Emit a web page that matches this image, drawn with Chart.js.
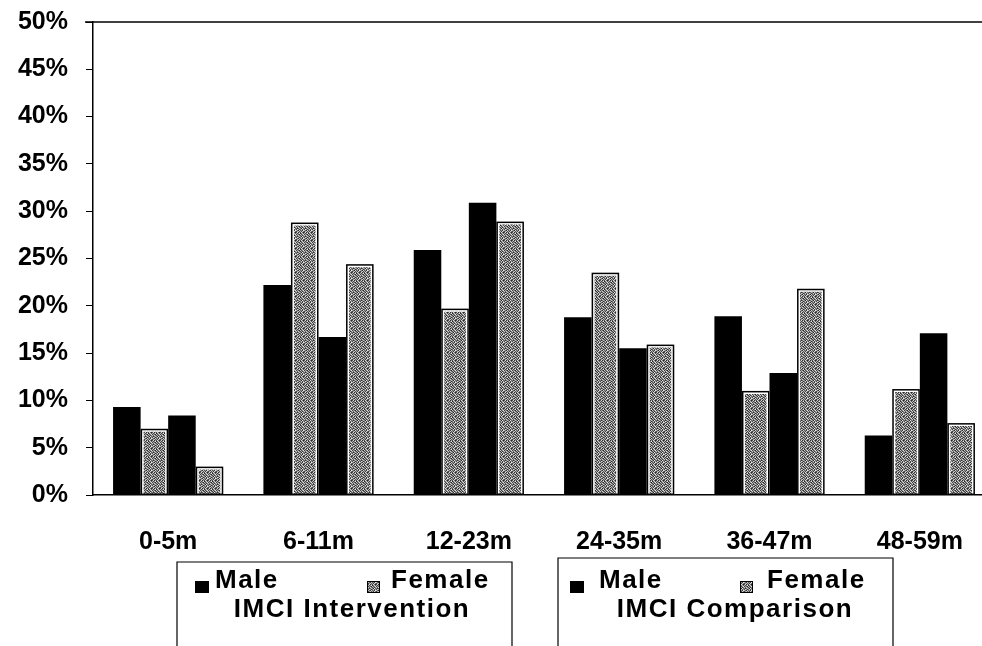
<!DOCTYPE html>
<html>
<head>
    <title>IMCI by age and sex</title>
    <script src="https://cdn.jsdelivr.net/npm/chart.js"></script>
    <style>
        html, body {
            margin: 0;
            padding: 0;
            background: #fff;
            overflow: hidden;
        }
        .wrap {
            position: relative;
            width: 1000px;
            height: 646px;
        }
    </style>
</head>
<body>
    <div class="wrap">
        <canvas id="ageChart" width="1000" height="646"></canvas>
    </div>
    <script>
        const categories = ['0-5m', '6-11m', '12-23m', '24-35m', '36-47m', '48-59m'];
        const interventionMale = [9.3, 22.2, 25.9, 18.8, 18.9, 6.3];
        const interventionFemale = [7.0, 28.8, 19.7, 23.5, 11.0, 11.2];
        const comparisonMale = [8.4, 16.7, 30.9, 15.5, 12.9, 17.1];
        const comparisonFemale = [3.0, 24.4, 28.9, 15.9, 21.8, 7.6];
        const groupNames = ['IMCI Intervention', 'IMCI Comparison'];
        const sexLabels = ['Male', 'Female'];

        const FONT = '"Liberation Sans", Arial, sans-serif';

        // speckled grey fill used for the female bars
        function makePattern() {
            const shades = [
                0x50, 0xd8, 0x30, 0x99, 0x48, 0xe0, 0x70, 0x28,
                0xb8, 0x40, 0x88, 0xe8, 0x2a, 0x74, 0xc8, 0x58,
                0x38, 0xa8, 0x60, 0x22, 0xd0, 0x4a, 0x90, 0xe4,
                0xcc, 0x56, 0xdc, 0x7a, 0x3c, 0xb0, 0x2e, 0x84,
                0x80, 0x30, 0x5a, 0xc0, 0x94, 0x26, 0xe8, 0x64,
                0x44, 0xe0, 0xa0, 0x36, 0x6c, 0xcc, 0x52, 0xa4,
                0xbc, 0x68, 0x2c, 0xd4, 0x58, 0x8c, 0x34, 0xec,
                0x3a, 0x9c, 0xc4, 0x4e, 0xb4, 0x3e, 0xd8, 0x78
            ];
            const c = document.createElement('canvas');
            c.width = 8;
            c.height = 8;
            const g = c.getContext('2d');
            const img = g.createImageData(8, 8);
            for (let i = 0; i < 64; i++) {
                img.data[i * 4] = shades[i];
                img.data[i * 4 + 1] = shades[i];
                img.data[i * 4 + 2] = shades[i];
                img.data[i * 4 + 3] = 255;
            }
            g.putImageData(img, 0, 0);
            return document.getElementById('ageChart').getContext('2d').createPattern(c, 'repeat');
        }
        const greyPattern = makePattern();

        // black outline round the female bars (white inner band comes from the bar border)
        const outlinePlugin = {
            id: 'outline',
            afterDatasetsDraw(chart) {
                const ctx = chart.ctx;
                ctx.save();
                ctx.strokeStyle = '#000';
                ctx.lineWidth = 1.5;
                chart.data.datasets.forEach((ds, i) => {
                    if (!ds.outlined) return;
                    chart.getDatasetMeta(i).data.forEach((bar) => {
                        const p = bar.getProps(['x', 'y', 'base', 'width'], true);
                        ctx.strokeRect(p.x - p.width / 2 + 0.75, p.y + 0.75, p.width - 1.5, p.base - p.y - 1);
                    });
                });
                ctx.restore();
            }
        };

        // top frame line + the two boxed legends under the axis
        const framePlugin = {
            id: 'frame',
            afterDraw(chart) {
                const ctx = chart.ctx;
                const area = chart.chartArea;
                ctx.save();
                ctx.strokeStyle = '#000';
                ctx.lineWidth = 1.5;
                ctx.beginPath();
                ctx.moveTo(85, area.top);
                ctx.lineTo(chart.width, area.top);
                ctx.stroke();

                const boxes = [
                    { x: 177, y: 562, w: 335, male: 195, maleText: 215, female: 367, femaleText: 391, title: 352 },
                    { x: 558, y: 558, w: 335, male: 570, maleText: 599, female: 740, femaleText: 767, title: 735 }
                ];
                ctx.font = 'bold 26px ' + FONT;
                ctx.letterSpacing = '1.5px';
                ctx.textBaseline = 'alphabetic';
                boxes.forEach((b, i) => {
                    ctx.lineWidth = 1.2;
                    ctx.strokeStyle = '#000';
                    ctx.beginPath();
                    ctx.moveTo(b.x, chart.height + 2);
                    ctx.lineTo(b.x, b.y);
                    ctx.lineTo(b.x + b.w, b.y);
                    ctx.lineTo(b.x + b.w, chart.height + 2);
                    ctx.stroke();

                    const male = chart.data.datasets[i * 2];
                    const female = chart.data.datasets[i * 2 + 1];
                    ctx.fillStyle = male.backgroundColor;
                    ctx.fillRect(b.male, 581, 14, 12);
                    ctx.fillStyle = female.backgroundColor;
                    ctx.fillRect(b.female, 581, 13, 12);
                    ctx.lineWidth = 1;
                    ctx.strokeRect(b.female + 0.5, 581.5, 12, 11);

                    ctx.fillStyle = '#000';
                    ctx.textAlign = 'left';
                    ctx.fillText(male.label, b.maleText, 588);
                    ctx.fillText(female.label, b.femaleText, 588);
                    ctx.textAlign = 'center';
                    ctx.fillText(male.group, b.title, 617);
                });
                ctx.restore();
            }
        };

        const ctx = document.getElementById('ageChart').getContext('2d');
        new Chart(ctx, {
            type: 'bar',
            data: {
                labels: categories,
                datasets: [
                    { label: sexLabels[0], group: groupNames[0], data: interventionMale, backgroundColor: '#000', borderWidth: 0 },
                    { label: sexLabels[1], group: groupNames[0], data: interventionFemale, backgroundColor: greyPattern, borderColor: '#fff', borderWidth: 3, outlined: true },
                    { label: sexLabels[0], group: groupNames[1], data: comparisonMale, backgroundColor: '#000', borderWidth: 0 },
                    { label: sexLabels[1], group: groupNames[1], data: comparisonFemale, backgroundColor: greyPattern, borderColor: '#fff', borderWidth: 3, outlined: true }
                ]
            },
            options: {
                responsive: false,
                animation: false,
                layout: {
                    padding: { top: 22, right: 5, bottom: 0, left: 0 }
                },
                datasets: {
                    bar: {
                        categoryPercentage: 0.733,
                        barPercentage: 1.0
                    }
                },
                plugins: {
                    legend: { display: false },
                    tooltip: { enabled: false }
                },
                scales: {
                    x: {
                        grid: { display: false, drawTicks: false },
                        border: { display: true, color: '#000', width: 1.5 },
                        ticks: {
                            color: '#000',
                            padding: 32,
                            maxRotation: 0,
                            font: { family: FONT, size: 25, weight: 'bold' }
                        },
                        afterFit(scale) { scale.height = 151; }
                    },
                    y: {
                        min: 0,
                        max: 50,
                        grid: { drawOnChartArea: false, drawTicks: true, tickLength: 7, color: '#000' },
                        border: { display: true, color: '#000', width: 1.5 },
                        ticks: {
                            stepSize: 5,
                            color: '#000',
                            padding: 18,
                            font: { family: FONT, size: 25, weight: 'bold' },
                            callback: (v) => v + '%'
                        },
                        afterFit(scale) {
                            scale.width = 93;
                            scale.paddingTop = 0;
                            scale.paddingBottom = 0;
                        }
                    }
                }
            },
            plugins: [outlinePlugin, framePlugin]
        });
    </script>
</body>
</html>
